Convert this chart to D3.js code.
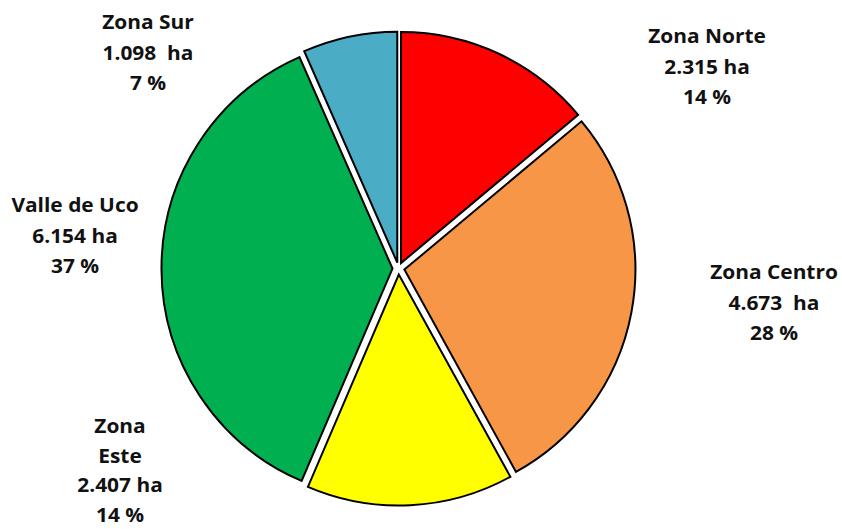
<!DOCTYPE html>
<html>
<head>
<meta charset="utf-8">
<script src="https://cdn.jsdelivr.net/npm/d3@7"></script>
<style>
  html, body { margin: 0; padding: 0; background: #ffffff; }
  svg { display: block; }
  text { font-family: "Open Sans", Lato, sans-serif; font-weight: 700; font-size: 19px; fill: #111; white-space: pre; }
</style>
</head>
<body>
<svg id="chart" width="842" height="529"></svg>
<script>
// ---- data ----
const zones = ["Zona Norte", "Zona Centro", "Zona Este", "Valle de Uco", "Zona Sur"];
const hectares = [2315, 4673, 2407, 6154, 1098];
const nameLines = [["Zona Norte"], ["Zona Centro"], ["Zona", "Este"], ["Valle de Uco"], ["Zona Sur"]];
const haLabels = ["2.315 ha", "4.673  ha", "2.407 ha", "6.154 ha", "1.098  ha"];
const pctLabels = ["14 %", "28 %", "14 %", "37 %", "7 %"];
const colors = ["#FF0000", "#F79646", "#FFFF00", "#00B050", "#4BACC6"];

// ---- layout ----
const W = 842, H = 529;
const cx = 398.5, cy = 268.5, R = 231, explode = 6;
// label anchors (centre x, first baseline y) and line spacing
const labelAnchor = [
  [707, 43],
  [774, 279],
  [120, 433],
  [75, 212],
  [148, 29]
];
const lineH = [30.5, 30.5, 29.5, 30.5, 30.5];

const svg = d3.select("#chart");
const g = svg.append("g").attr("transform", `translate(${cx},${cy})`);

const pie = d3.pie().sort(null).value(d => d.value);
const data = zones.map((z, i) => ({ zone: z, value: hectares[i], i }));
const arcs = pie(data);
const arc = d3.arc().innerRadius(0).outerRadius(R);

g.selectAll("path.slice")
  .data(arcs)
  .join("path")
  .attr("class", "slice")
  .attr("d", arc)
  .attr("fill", d => colors[d.data.i])
  .attr("stroke", "#000")
  .attr("stroke-width", 2)
  .attr("stroke-linejoin", "miter")
  .attr("transform", d => {
    const a = (d.startAngle + d.endAngle) / 2;
    return `translate(${explode * Math.sin(a)},${-explode * Math.cos(a)})`;
  });

const labels = svg.append("g");
data.forEach((d, i) => {
  const lines = nameLines[i].concat([haLabels[i], pctLabels[i]]);
  const [x, y] = labelAnchor[i];
  lines.forEach((t, k) => {
    labels.append("text")
      .attr("text-anchor", "middle")
      .attr("transform", `translate(${x},${y + k * lineH[i]}) scale(1.1,1)`)
      .text(t);
  });
});
</script>
</body>
</html>
